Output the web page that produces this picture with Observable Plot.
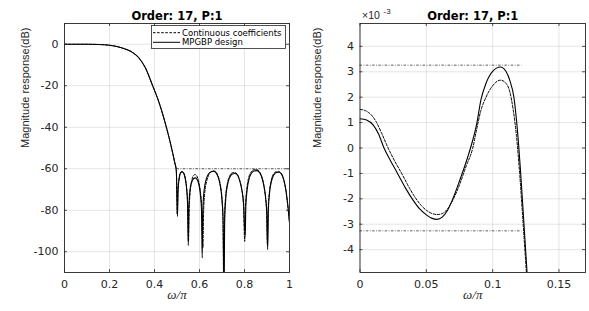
<!DOCTYPE html>
<html><head><meta charset="utf-8">
<script src="https://cdn.jsdelivr.net/npm/d3@7"></script>
<script src="https://cdn.jsdelivr.net/npm/@observablehq/plot@0.6"></script>
<style>
body{margin:0;background:#fff;}
#wrap{position:relative;width:589px;height:311px;display:flex;}
#legend{position:absolute;left:151px;top:25px;}
</style></head><body><div id="wrap"></div>
<script>
// ---- Data ----
const titleText = "Order: 17, P:1";
const yLabelText = "Magnitude response(dB)";
const xLabelText = "ω/π";
const legendLabels = ["Continuous coefficients", "MPGBP design"];

// Left panel: full band, dB
const leftXTicks = [0, 0.2, 0.4, 0.6, 0.8, 1];
const leftXLabels = ["0", "0.2", "0.4", "0.6", "0.8", "1"];
const leftYTicks = [-100, -80, -60, -40, -20, 0];
const leftYLabels = ["-100", "-80", "-60", "-40", "-20", "0"];
const stopbandEdges = [0.5, 1];
const stopbandLevel = [-60];

const mpgbpW = [0,0.05,0.1,0.15,0.2,0.25,0.3,0.33,0.36,0.39,0.42,0.44,0.46,0.48,0.49,0.497,0.502,
  0.505,0.51,0.516,0.523,0.53,0.537,0.543,0.547,0.55,
  0.553,0.558,0.565,0.573,0.582,0.59,0.598,0.605,0.609,0.612,
  0.615,0.62,0.63,0.64,0.652,0.662,0.672,0.682,0.692,0.7,0.705,0.709,
  0.712,0.717,0.725,0.735,0.746,0.757,0.768,0.778,0.788,0.796,0.803,
  0.806,0.812,0.82,0.83,0.842,0.853,0.864,0.875,0.885,0.894,0.899,0.903,
  0.906,0.912,0.92,0.93,0.942,0.953,0.964,0.975,0.985,0.993,1.0];
const mpgbpDB = [0,0,0,-0.1,-0.5,-1.6,-3.8,-6.5,-11.5,-19.5,-28,-35,-43,-52,-57,-61,-83,
  -70,-64.5,-62,-61.5,-62.3,-65,-70,-77,-97,
  -78,-70,-66.5,-64.8,-64.4,-65.3,-68,-73.5,-80,-103,
  -80,-71,-65,-62.5,-61.4,-61.2,-61.8,-63.8,-68,-75,-85,-118,
  -85,-74,-67.5,-64,-62.5,-62.3,-63,-65.5,-70,-77,-92.5,
  -78,-70,-65,-62.3,-61.1,-60.9,-61.5,-63.5,-67.5,-74,-81,-99,
  -80,-71,-66,-63,-61.8,-61.7,-62.5,-65.5,-71,-78,-86];

const contW = [0,0.05,0.1,0.15,0.2,0.25,0.3,0.33,0.36,0.39,0.42,0.44,0.46,0.48,0.49,0.497,0.501,
  0.504,0.51,0.516,0.523,0.53,0.537,0.543,0.547,0.551,
  0.554,0.558,0.565,0.572,0.58,0.588,0.597,0.605,0.61,0.615,
  0.618,0.623,0.632,0.642,0.653,0.662,0.672,0.682,0.692,0.7,0.704,0.708,
  0.711,0.716,0.724,0.734,0.745,0.756,0.767,0.777,0.787,0.795,0.801,
  0.804,0.81,0.818,0.828,0.84,0.852,0.863,0.874,0.884,0.893,0.898,0.902,
  0.905,0.911,0.919,0.929,0.941,0.952,0.963,0.974,0.984,0.992,1.0];
const contDB = [0,0,0,-0.1,-0.5,-1.6,-3.8,-6.5,-11.5,-19.5,-28,-35,-43,-52,-57,-61,-82,
  -71,-64,-61.8,-61.3,-62,-64.5,-69.5,-76,-95,
  -80,-72,-66,-63.5,-62.8,-63.5,-66.5,-72,-79,-98,
  -82,-72,-66,-62.8,-61.3,-61,-61.5,-63.3,-67.5,-74.5,-84,-120,
  -84,-73.5,-67,-63.5,-62,-61.8,-62.5,-65,-69.5,-76.5,-95,
  -79,-70,-64.5,-61.8,-60.5,-60.3,-60.9,-63,-67,-73.5,-80.5,-97,
  -80,-71,-65.5,-62.5,-61.4,-61.3,-62.2,-65.2,-70.5,-77.5,-86];

// Right panel: passband detail, in units of 1e-3 dB
const rightXTicks = [0, 0.05, 0.1, 0.15];
const rightXLabels = ["0", "0.05", "0.1", "0.15"];
const rightYTicks = [-4, -3, -2, -1, 0, 1, 2, 3, 4];
const rightYLabels = ["-4", "-3", "-2", "-1", "0", "1", "2", "3", "4"];
const passbandEdges = [0, 0.122];
const rippleLevels = [3.26, -3.26];
const exponentText = ["×10", "-3"];

const mpgbpZoomW = [0,0.005,0.01,0.014,0.0181,0.023,0.0283,0.034,0.04,0.045,0.05,0.054,0.058,0.062,0.066,0.0694,
  0.075,0.08,0.0836,0.088,0.0912,0.095,0.1,0.1059,0.11,0.113,0.116,0.1185,0.121,0.1235,0.126];
const mpgbpZoomDB = [1.15,1.1,0.9,0.55,0,-0.5,-1.0,-1.55,-2.05,-2.4,-2.63,-2.76,-2.81,-2.72,-2.45,-2.07,
  -1.3,-0.55,0.05,0.95,1.9,2.55,3.02,3.19,3.02,2.65,2.0,0.8,-0.9,-2.9,-4.95];

const contZoomW = [0,0.004,0.008,0.012,0.016,0.0212,0.026,0.0314,0.037,0.042,0.046,0.05,0.054,0.058,0.062,0.066,
  0.07,0.075,0.08,0.085,0.088,0.091,0.095,0.1,0.106,0.11,0.113,0.1155,0.118,0.1205,0.123,0.1255];
const contZoomDB = [1.52,1.47,1.33,1.05,0.62,0,-0.5,-1.0,-1.55,-1.98,-2.25,-2.45,-2.57,-2.62,-2.58,-2.4,
  -2.05,-1.45,-0.72,0.0,0.75,1.45,2.0,2.45,2.67,2.55,2.2,1.5,0.45,-1.1,-3.0,-4.95];

// ---- Drawing ----
const ink = "#262626";
const H = 311, MT = 23, MB = 39;
const table = (w, v) => w.map((x, i) => ({w: x, v: v[i]}));

function panel(o) {
  const plotW = o.width - o.marginLeft - o.marginRight;
  const plotH = H - MT - MB;
  const lab = (ticks, labels) => d => labels[ticks.indexOf(d)];
  return Plot.plot({
    width: o.width, height: H,
    marginLeft: o.marginLeft, marginRight: o.marginRight, marginTop: MT, marginBottom: MB,
    style: {fontFamily: "DejaVu Sans", fontSize: "11px", color: ink, background: "transparent", overflow: "visible"},
    x: {domain: o.xDomain, axis: null},
    y: {domain: o.yDomain, axis: null},
    marks: [
      Plot.ruleX(o.xTicks, {x: d => d, stroke: ink, strokeOpacity: 0.12, strokeWidth: 1}),
      Plot.ruleY(o.yTicks, {y: d => d, stroke: ink, strokeOpacity: 0.12, strokeWidth: 1}),
      ...o.specs,
      Plot.line(o.cont, {x: "w", y: "v", stroke: "#000", strokeWidth: 1, strokeDasharray: "2.5,1.6", curve: "monotone-x", clip: true}),
      Plot.line(o.mpgbp, {x: "w", y: "v", stroke: "#000", strokeWidth: 1.1, curve: "monotone-x", clip: true}),
      Plot.ruleX(o.xTicks, {x: d => d, stroke: ink, strokeWidth: 0.8, insetTop: plotH - 3}),
      Plot.ruleX(o.xTicks, {x: d => d, stroke: ink, strokeWidth: 0.8, insetBottom: plotH - 3}),
      Plot.ruleY(o.yTicks, {y: d => d, stroke: ink, strokeWidth: 0.8, insetRight: plotW - 3}),
      Plot.ruleY(o.yTicks, {y: d => d, stroke: ink, strokeWidth: 0.8, insetLeft: plotW - 3}),
      Plot.frame({stroke: ink, strokeWidth: 0.9}),
      Plot.axisX({ticks: o.xTicks, tickSize: 0, tickPadding: 7.5, tickFormat: lab(o.xTicks, o.xLabels), label: null}),
      Plot.axisY({ticks: o.yTicks, tickSize: 0, tickPadding: 6, tickFormat: lab(o.yTicks, o.yLabels), label: null}),
      Plot.text([titleText], {frameAnchor: "top", text: d => d, dy: -7, lineAnchor: "middle", fontWeight: "bold", fontSize: 11.5, fill: "#000"}),
      Plot.text([xLabelText], {frameAnchor: "bottom", text: d => d, dy: 22, lineAnchor: "middle", fontFamily: "Liberation Serif", fontStyle: "italic", fontSize: 13, fill: ink}),
      Plot.text([yLabelText], {frameAnchor: "left", text: d => d, rotate: -90, dx: o.labelDx, lineAnchor: "middle", fontFamily: "Liberation Sans", fontSize: 11, fill: ink}),
      ...(o.extras || [])
    ]
  });
}

const specStyle = {stroke: "#333", strokeWidth: 0.8, strokeDasharray: "2.5,1.5,0.8,1.5"};

const left = panel({
  width: 295, marginLeft: 64, marginRight: 6,
  xDomain: [0, 1], yDomain: [-110, 10],
  xTicks: leftXTicks, xLabels: leftXLabels, yTicks: leftYTicks, yLabels: leftYLabels,
  cont: table(contW, contDB), mpgbp: table(mpgbpW, mpgbpDB),
  specs: [Plot.ruleY(stopbandLevel, {y: d => d, x1: stopbandEdges[0], x2: stopbandEdges[1], ...specStyle})],
  labelDx: -39
});

const right = panel({
  width: 294, marginLeft: 64.5, marginRight: 4,
  xDomain: [0, 0.17], yDomain: [-4.9, 4.9],
  xTicks: rightXTicks, xLabels: rightXLabels, yTicks: rightYTicks, yLabels: rightYLabels,
  cont: table(contZoomW, contZoomDB), mpgbp: table(mpgbpZoomW, mpgbpZoomDB),
  specs: [Plot.ruleY(rippleLevels, {y: d => d, x1: passbandEdges[0], x2: passbandEdges[1], ...specStyle})],
  labelDx: -42.5,
  extras: [
    Plot.text([exponentText[0]], {frameAnchor: "top-left", text: d => d, textAnchor: "start", lineAnchor: "middle", dx: 2, dy: -8, fontFamily: "Liberation Sans", fontSize: 10.5, fill: ink}),
    Plot.text([exponentText[1]], {frameAnchor: "top-left", text: d => d, textAnchor: "start", lineAnchor: "middle", dx: 23.5, dy: -12, fontFamily: "Liberation Sans", fontSize: 8, fill: ink})
  ]
});

const wrap = document.getElementById("wrap");
wrap.appendChild(left);
wrap.appendChild(right);

// Legend (inside left axes, top-right)
const ns = "http://www.w3.org/2000/svg";
const lg = document.createElementNS(ns, "svg");
lg.setAttribute("id", "legend");
lg.setAttribute("width", 135); lg.setAttribute("height", 24);
const rect = document.createElementNS(ns, "rect");
Object.entries({x: 0.5, y: 0.5, width: 134, height: 23, fill: "#fff", stroke: ink, "stroke-width": 0.8}).forEach(([k, v]) => rect.setAttribute(k, v));
lg.appendChild(rect);
const dashes = ["2.5,1.6", null];
legendLabels.forEach((t, i) => {
  const yy = 7.7 + i * 9.6;
  const ln = document.createElementNS(ns, "line");
  Object.entries({x1: 2, x2: 29, y1: yy, y2: yy, stroke: "#000", "stroke-width": 1}).forEach(([k, v]) => ln.setAttribute(k, v));
  if (dashes[i]) ln.setAttribute("stroke-dasharray", dashes[i]);
  lg.appendChild(ln);
  const tx = document.createElementNS(ns, "text");
  Object.entries({x: 31, y: yy, "dominant-baseline": "central", "font-family": "DejaVu Sans", "font-size": 8.5, fill: "#000"}).forEach(([k, v]) => tx.setAttribute(k, v));
  tx.textContent = t;
  lg.appendChild(tx);
});
wrap.appendChild(lg);
</script></body></html>
